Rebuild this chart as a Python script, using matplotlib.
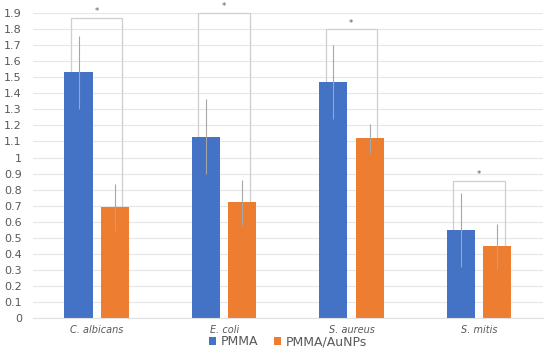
import matplotlib.pyplot as plt
import numpy as np

categories = ["C. albicans", "E. coli", "S. aureus", "S. mitis"]
pmma = [1.53, 1.13, 1.47, 0.546]
pmma_err = [0.23, 0.235, 0.23, 0.23]
aunp = [0.69, 0.72, 1.12, 0.446]
aunp_err = [0.145, 0.14, 0.09, 0.14]
# significance bracket heights
bracket_top = [1.87, 1.90, 1.80, 0.855]

blue = "#4472c4"
orange = "#ed7d31"

fig = plt.figure(figsize=(5.5, 3.53), dpi=100)
ax = fig.add_axes([0.06, 0.099, 0.927, 0.864])

x = np.arange(len(categories))
w = 0.22
off = 0.143

ax.bar(x - off, pmma, w, color=blue, label="PMMA", zorder=2)
ax.bar(x + off, aunp, w, color=orange, label="PMMA/AuNPs", zorder=2)
ax.errorbar(x - off, pmma, yerr=pmma_err, fmt="none", ecolor="#a6a6a6",
            elinewidth=0.8, capsize=0, zorder=3)
ax.errorbar(x + off, aunp, yerr=aunp_err, fmt="none", ecolor="#a6a6a6",
            elinewidth=0.8, capsize=0, zorder=3)

# brackets with stars
for i in range(len(categories)):
    xl = x[i] - 0.205
    xr = x[i] + 0.2
    top = bracket_top[i]
    ax.plot([xl, xl, xr, xr], [pmma[i], top, top, aunp[i]],
            color="#cfcfcf", lw=0.9, zorder=1, clip_on=False)
    ax.text((xl + xr) / 2, top + 0.01, "*", ha="center", va="bottom",
            fontsize=6, color="#595959", clip_on=False)

ax.set_xlim(-0.5, len(categories) - 0.5)
ax.set_ylim(0, 1.9)
yt = np.round(np.arange(0, 1.91, 0.1), 1)
ax.set_yticks(yt)
ax.set_yticklabels([f"{v:g}" for v in yt])
ax.set_xticks(x)
ax.set_xticklabels(categories, fontstyle="italic", fontsize=7, color="#595959")
ax.tick_params(axis="y", labelsize=8, labelcolor="#595959", length=0, pad=8)
ax.tick_params(axis="x", length=0, pad=5)
ax.grid(axis="y", color="#e6e6e6", lw=0.8, zorder=0)
ax.set_axisbelow(True)
for s in ["top", "right", "left"]:
    ax.spines[s].set_visible(False)
ax.spines["bottom"].set_color("#e0e0e0")

ax.legend(loc="center", bbox_to_anchor=(0.5, -0.077), ncol=2, frameon=False,
          fontsize=9, handlelength=0.6, handleheight=0.6, handletextpad=0.4,
          columnspacing=1.2, labelcolor="#595959", borderpad=0.1)

fig.savefig("out.png", dpi=100)
